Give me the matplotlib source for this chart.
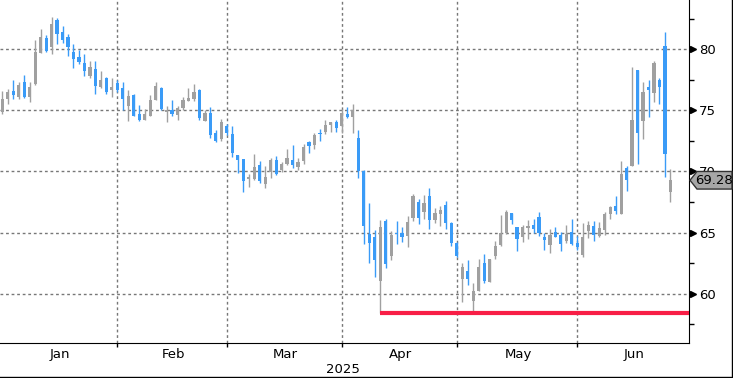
import numpy as np
import matplotlib
matplotlib.use("Agg")
from matplotlib import pyplot as plt
from matplotlib import transforms
from matplotlib.patches import Polygon
from matplotlib.lines import Line2D

# daily candles, Jan 2 2025 .. Jun 24 2025 (one entry per trading day)
opens = [74.89, 75.93, 76.58, 76.09, 77.32, 76.12, 77.16, 79.72, 80.93, 80.21,
         82.40, 81.42, 81.00, 79.80, 79.39, 78.90, 77.84, 78.39, 76.91, 77.65,
         76.66, 77.24, 76.83, 75.39, 76.29, 74.71, 74.24, 74.57, 75.88, 76.83,
         74.90, 75.00, 74.65, 75.22, 75.80, 75.93, 76.70, 74.16, 74.79, 73.15,
         72.69, 73.72, 73.10, 71.35, 71.02, 69.42, 69.39, 70.53, 68.98, 69.96,
         70.94, 70.12, 70.61, 70.94, 70.37, 70.86, 72.41, 72.17, 73.10, 73.23,
         73.81, 74.05, 73.75, 74.71, 74.46, 72.74, 70.05, 64.86, 64.64, 61.04,
         65.95, 63.11, 65.00, 65.00, 64.75, 66.22, 67.50, 66.69, 68.00, 66.03,
         66.52, 67.26, 65.79, 64.15, 61.20, 61.86, 59.40, 60.22, 62.51, 60.96,
         63.09, 63.99, 64.97, 66.60, 65.46, 64.64, 65.38, 65.62, 66.28, 64.64,
         63.99, 65.05, 64.80, 64.31, 65.05, 64.13, 63.14, 65.11, 65.52, 64.70,
         65.19, 66.50, 67.16, 66.50, 70.27, 70.44, 78.31, 74.13, 76.91, 76.42,
         77.49, 80.27, 68.31]
highs = [76.60, 76.75, 77.48, 77.32, 77.90, 77.32, 80.76, 81.66, 81.17, 82.65,
         82.57, 81.91, 81.25, 80.43, 79.94, 79.61, 79.07, 79.04, 78.22, 77.73,
         77.65, 77.49, 77.32, 76.67, 76.35, 75.44, 75.09, 76.26, 77.32, 76.91,
         75.36, 75.85, 75.36, 76.10, 76.83, 77.16, 76.75, 75.00, 75.28, 73.40,
         74.30, 73.89, 73.72, 71.35, 71.02, 69.80, 71.43, 70.86, 70.45, 71.10,
         71.27, 70.78, 71.84, 72.17, 71.10, 72.25, 72.50, 73.15, 73.48, 74.21,
         74.05, 74.21, 75.09, 75.28, 75.52, 73.40, 70.10, 67.42, 65.21, 66.03,
         66.11, 65.13, 65.95, 65.46, 66.36, 68.16, 67.75, 68.08, 68.65, 67.01,
         67.18, 67.59, 65.87, 64.26, 62.51, 62.76, 60.88, 62.84, 63.25, 62.84,
         64.31, 66.44, 66.85, 66.60, 65.46, 65.62, 66.03, 66.11, 66.69, 64.97,
         65.29, 65.46, 65.05, 65.62, 66.11, 64.70, 65.77, 65.93, 65.93, 65.85,
         66.67, 67.16, 67.98, 70.85, 70.44, 78.55, 78.31, 77.32, 77.49, 79.04,
         77.65, 81.42, 70.19]
lows = [74.72, 75.54, 75.93, 75.93, 75.98, 75.70, 77.07, 79.72, 79.80, 79.64,
        80.46, 80.54, 79.48, 78.49, 78.82, 77.81, 77.65, 76.36, 76.83, 76.34,
        76.07, 76.50, 75.03, 74.16, 74.52, 74.13, 74.24, 74.52, 75.88, 75.03,
        74.08, 74.57, 74.24, 75.00, 75.80, 75.80, 74.24, 74.16, 72.77, 72.42,
        72.50, 72.99, 71.21, 69.85, 68.35, 68.76, 69.30, 69.06, 68.65, 69.47,
        69.72, 69.96, 70.53, 70.29, 70.12, 70.61, 71.51, 71.84, 72.50, 73.07,
        73.23, 73.23, 73.12, 74.41, 73.15, 69.47, 64.07, 62.51, 61.37, 58.39,
        62.10, 62.79, 64.09, 64.26, 63.85, 65.98, 65.70, 66.11, 65.29, 65.79,
        65.54, 65.29, 63.90, 63.00, 59.32, 60.71, 58.50, 60.22, 60.88, 60.96,
        62.84, 63.90, 64.89, 65.70, 63.49, 64.23, 64.48, 64.97, 64.70, 63.58,
        63.33, 64.64, 63.49, 64.15, 64.00, 63.55, 62.98, 64.54, 64.29, 64.62,
        64.78, 66.09, 66.50, 66.50, 68.39, 70.44, 70.60, 72.65, 74.45, 75.68,
        75.52, 69.54, 67.49]
closes = [75.93, 76.50, 76.25, 77.07, 76.07, 76.91, 79.80, 81.00, 79.89, 82.07,
          81.28, 80.79, 80.16, 79.23, 78.98, 78.25, 78.57, 77.02, 77.48, 76.50,
          76.91, 76.70, 75.96, 76.18, 74.57, 74.24, 74.71, 75.85, 77.00, 75.11,
          75.00, 74.71, 75.20, 75.85, 76.01, 76.51, 74.41, 74.79, 72.99, 72.50,
          74.05, 73.15, 71.54, 70.94, 69.22, 69.47, 70.37, 69.22, 69.55, 70.94,
          69.80, 70.61, 71.10, 70.53, 70.78, 72.00, 72.09, 72.99, 73.04, 73.81,
          74.05, 73.56, 74.77, 74.46, 75.00, 70.00, 65.57, 64.18, 62.79, 65.46,
          62.40, 64.80, 64.86, 64.67, 65.87, 68.00, 66.22, 67.42, 66.03, 66.60,
          66.85, 65.79, 64.15, 63.09, 62.18, 61.20, 60.22, 62.18, 61.04, 62.84,
          63.90, 64.97, 66.69, 66.03, 64.48, 65.46, 65.54, 65.29, 64.94, 64.39,
          64.80, 64.64, 64.07, 64.89, 64.07, 63.80, 64.62, 65.60, 64.78, 65.36,
          66.50, 67.08, 66.75, 69.78, 69.29, 74.21, 73.14, 76.50, 76.67, 78.88,
          76.91, 71.42, 69.28]

months = ["Jan", "Feb", "Mar", "Apr", "May", "Jun"]
month_last_day = [21, 41, 62, 83, 105]   # index of last candle of Jan..May
support_level = 58.39
support_start = 69
last_price = 69.28

o = np.array(opens)
h = np.array(highs)
l = np.array(lows)
c = np.array(closes)
x = np.arange(len(o))
up = c >= o
grey = "#A0A0A0"
blue = "#3A9BF7"
cols = np.where(up, grey, blue)

fig = plt.figure(figsize=(7.33, 3.78), dpi=100)
ax = fig.add_axes([0, 0.0918, 0.9404, 0.9082])

x_left, x_right = -0.42, 125.45
ax.set_xlim(x_left, x_right)
ax.set_ylim(55.94, 84.03)

# grid
ax.set_xticks(month_last_day)
ax.set_yticks([60, 65, 70, 75, 80])
ax.set_yticks(np.arange(57.5, 84, 5), minor=True)
ax.grid(True, which="major", color="#777777", linestyle=(0, (2, 2)), linewidth=1)
ax.set_axisbelow(True)

# candles
ax.vlines(x, l, h, colors=cols, linewidth=1.0, zorder=2)
body_bot = np.minimum(o, c)
body_h = np.maximum(np.abs(c - o), 0.1)
ax.bar(x, body_h, bottom=body_bot, width=0.58, color=cols, linewidth=0, zorder=3)

# support line
ax.hlines(support_level, support_start, x_right, colors="#F81E46", linewidth=3, zorder=4)

# axes styling
for s in ["top", "left"]:
    ax.spines[s].set_visible(False)
ax.spines["right"].set_color("black")
ax.spines["bottom"].set_color("black")
ax.yaxis.tick_right()
ax.tick_params(axis="y", which="major", length=0, pad=7, labelsize=9.5)
ax.tick_params(axis="y", which="minor", length=3.5, width=1, color="black")
ax.tick_params(axis="x", which="major", length=3, width=1, color="black", labelbottom=False)

# triangle markers on major y ticks
tri = transforms.offset_copy(ax.get_yaxis_transform(), fig=fig, x=3.5, y=0, units="dots")
ax.plot([1.0] * 5, [60, 65, 70, 75, 80], linestyle="none", marker=">", markersize=5,
        color="black", transform=tri, clip_on=False, zorder=5)

# month labels
bounds = [x_left] + month_last_day + [x_right]
for i, m in enumerate(months):
    ax.text((bounds[i] + bounds[i + 1]) / 2 + 0.2, -0.013, m, transform=ax.get_xaxis_transform(),
            ha="center", va="top", fontsize=9.5)
ax.text(0.497, -0.057, "2025", transform=ax.transAxes, ha="center", va="top", fontsize=9.5)

# last price tag
tag = transforms.blended_transform_factory(fig.transFigure, ax.transData)
hh = 0.72
px = 1 / 733
poly = Polygon([(690 * px, last_price), (697 * px, last_price + hh), (732 * px, last_price + hh),
                (732 * px, last_price - hh), (697 * px, last_price - hh)],
               closed=True, facecolor="#A6A6A6", edgecolor="#333333", linewidth=1,
               transform=tag, zorder=10)
fig.add_artist(poly)
fig.text(714 * px, last_price, f"{last_price:.2f}", transform=tag, ha="center", va="center",
         fontsize=9.5, zorder=11)

# outer frame (right and bottom)
fig.add_artist(Line2D([731.5 * px, 731.5 * px], [0.003, 1], color="black", linewidth=1,
                      transform=fig.transFigure))
fig.add_artist(Line2D([0, 731.5 * px], [1.5 / 378, 1.5 / 378], color="black", linewidth=1,
                      transform=fig.transFigure))

fig.savefig("out.png", dpi=100)
